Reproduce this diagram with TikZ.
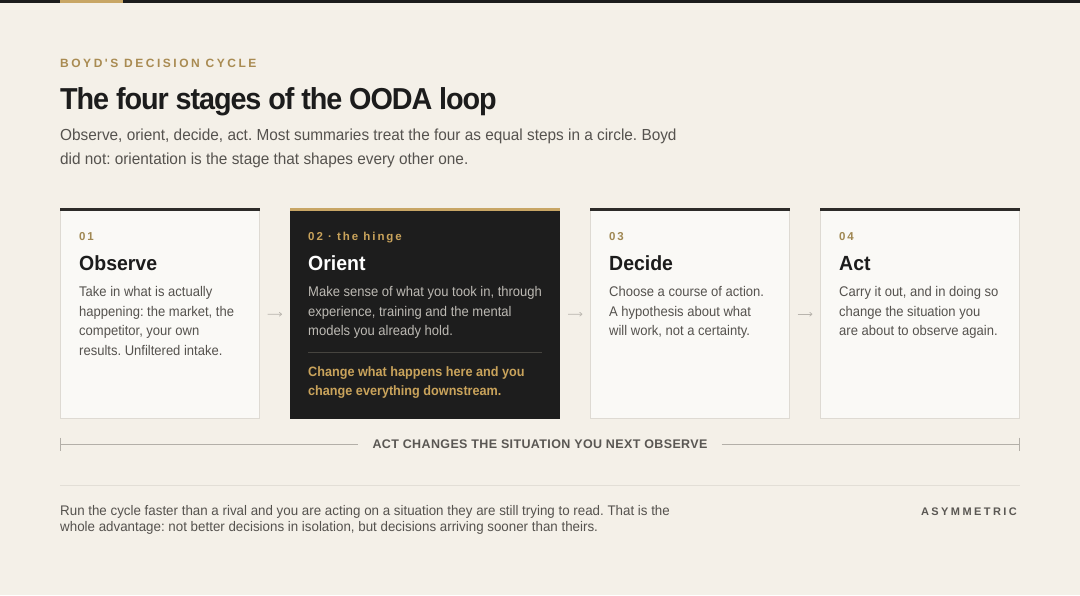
\documentclass[tikz,border=0pt]{standalone}
\usepackage{fontspec}
\setmainfont{Liberation Sans}
\newfontfamily\fE{Liberation Sans}
\newfontfamily\fN{Liberation Sans}[FakeStretch=0.93]
\newfontfamily\fM{Liberation Sans}[FakeStretch=0.96]
\newfontfamily\fT{Liberation Sans}[FakeStretch=0.95]
\newfontfamily\fH{Liberation Sans}[FakeStretch=0.95]
\usetikzlibrary{arrows.meta}
\frenchspacing
\definecolor{bg}{HTML}{F4F0E8}
\definecolor{cardfill}{HTML}{FAF9F6}
\definecolor{cardline}{HTML}{DEDAD3}
\definecolor{darkcard}{HTML}{1D1D1D}
\definecolor{topdark}{HTML}{2D2B29}
\definecolor{gold}{HTML}{A98B52}
\definecolor{goldnum}{HTML}{A08853}
\definecolor{goldbright}{HTML}{C9A35B}
\definecolor{goldbar}{HTML}{C8A665}
\definecolor{ink}{HTML}{1C1C1C}
\definecolor{body}{HTML}{55524E}
\definecolor{orientbody}{HTML}{BDBAB4}
\definecolor{orientrule}{HTML}{46443F}
\definecolor{loopline}{HTML}{B3AFA8}
\definecolor{looptext}{HTML}{5A5753}
\definecolor{sepline}{HTML}{E2DED6}
\definecolor{arrowgray}{HTML}{B8B4AD}
\newcommand\mylines[6]{%
  \foreach \ln [count=\k from 0] in {#6} {%
    \node[#5] (#1\k) at (#2, {#3+\k*#4}) {\ln};}}
\tikzset{
  lbl/.style={inner sep=0pt, anchor=base west},
  eyebrow/.style={lbl, text=gold, font=\fE\bfseries\fontsize{12}{14}\selectfont\addfontfeatures{LetterSpace=21}},
  titletext/.style={lbl, text=ink, font=\fT\bfseries\fontsize{30.3}{36}\selectfont\addfontfeatures{LetterSpace=-3.6}},
  subtext/.style={lbl, text=body, font=\fM\fontsize{16}{18}\selectfont},
  numtext/.style={lbl, text=goldnum, font=\bfseries\fontsize{11.5}{13}\selectfont\addfontfeatures{LetterSpace=15}},
  headtext/.style={lbl, text=ink, font=\fH\bfseries\fontsize{20.5}{24}\selectfont},
  bodytext/.style={lbl, text=body, font=\fN\fontsize{14}{16}\selectfont},
  orienttext/.style={lbl, text=orientbody, font=\fN\fontsize{14}{16}\selectfont},
  hingetext/.style={lbl, text=goldbright, font=\fN\bfseries\fontsize{13.6}{15}\selectfont},
  cardbox/.style={draw=cardline, line width=0.8pt, fill=cardfill, anchor=north west, minimum width=199.2pt, minimum height=209.6pt, inner sep=0pt, outer sep=0pt},
  darkbox/.style={fill=darkcard, anchor=north west, minimum width=270pt, minimum height=210.5pt, inner sep=0pt, outer sep=0pt},
  flowarrow/.style={draw=arrowgray, line width=0.7pt, -{To[length=3pt,width=4.5pt]}},
  loopstyle/.style={draw=loopline, line width=0.8pt},
  looplabel/.style={text=looptext, font=\bfseries\fontsize{12.5}{14}\selectfont\addfontfeatures{LetterSpace=3}, inner xsep=14pt, inner ysep=2pt},
  foottext/.style={lbl, text=body, font=\fM\fontsize{13.9}{16}\selectfont},
  tagtext/.style={inner sep=0pt, anchor=base east, text=looptext, font=\bfseries\fontsize{11}{13}\selectfont\addfontfeatures{LetterSpace=22}},
}
\begin{document}
\begin{tikzpicture}[x=1pt,y=-1pt]
\useasboundingbox (0,0) rectangle (1080,595);
\fill[bg] (0,0) rectangle (1080,595);
% top bar
\fill[ink] (0,0) rectangle (1080,3);
\fill[goldbar] (60,0) rectangle (123,3);
% header
\node[eyebrow] (eyebrow) at (60,67.5) {BOYD'S DECISION CYCLE};
\node[titletext] (title) at (60,109) {The four stages of the OODA loop};
\node[subtext] (sub1) at (60,140) {Observe, orient, decide, act. Most summaries treat the four as equal steps in a circle. Boyd};
\node[subtext] (sub2) at (60,164.5) {did not: orientation is the stage that shapes every other one.};
% cards
\node[cardbox] (c1) at (60.4,208.4) {};
\node[darkbox] (c2) at (290,208) {};
\node[cardbox] (c3) at (590.4,208.4) {};
\node[cardbox] (c4) at (820.4,208.4) {};
\fill[topdark] ([xshift=-0.4pt]c1.north west) rectangle ([xshift=0.4pt,yshift=-3pt]c1.north east);
\fill[goldbar] (c2.north west) rectangle ([yshift=-3pt]c2.north east);
\fill[topdark] ([xshift=-0.4pt]c3.north west) rectangle ([xshift=0.4pt,yshift=-3pt]c3.north east);
\fill[topdark] ([xshift=-0.4pt]c4.north west) rectangle ([xshift=0.4pt,yshift=-3pt]c4.north east);
% card 1
\node[numtext] (n1) at (79,240) {01};
\node[headtext] (h1) at (79,270) {Observe};
\mylines{ba}{79}{296.5}{19.6}{bodytext}{Take in what is actually,{happening: the market, the},{competitor, your own},results. Unfiltered intake.}
% card 2
\node[numtext, text=goldbright, font=\bfseries\fontsize{11.5}{13}\selectfont\addfontfeatures{LetterSpace=17}] (n2) at (308,240) {02 · the hinge};
\node[headtext, text=white] (h2) at (308,270) {Orient};
\mylines{bb}{308}{296.5}{19.6}{orienttext}{{Make sense of what you took in, through},{experience, training and the mental},models you already hold.}
\coordinate (dl) at (308,352.5);
\coordinate (dr) at (542,352.5);
\draw[orientrule, line width=0.8pt] (dl) -- (dr);
\mylines{bg}{308}{376.5}{18.5}{hingetext}{Change what happens here and you,change everything downstream.}
% card 3
\node[numtext] (n3) at (609,240) {03};
\node[headtext] (h3) at (609,270) {Decide};
\mylines{bc}{609}{296.5}{19.6}{bodytext}{Choose a course of action.,A hypothesis about what,{will work, not a certainty.}}
% card 4
\node[numtext] (n4) at (839,240) {04};
\node[headtext] (h4) at (839,270) {Act};
\mylines{bd}{839}{296.5}{19.6}{bodytext}{{Carry it out, and in doing so},change the situation you,are about to observe again.}
% arrows
\draw[flowarrow] ([xshift=8pt,yshift=-1pt]c1.east) -- ([xshift=-8pt,yshift=-1pt]c2.west);
\draw[flowarrow] ([xshift=8pt,yshift=-1pt]c2.east) -- ([xshift=-8pt,yshift=-1pt]c3.west);
\draw[flowarrow] ([xshift=8pt,yshift=-1pt]c3.east) -- ([xshift=-8pt,yshift=-1pt]c4.west);
% loop-back line
\node[looplabel] (loop) at (540,444) {ACT CHANGES THE SITUATION YOU NEXT OBSERVE};
\coordinate (la) at (60.5,444);
\coordinate (lb) at (1019.5,444);
\draw[loopstyle] (la) -- (la -| loop.west);
\draw[loopstyle] (loop.east |- lb) -- (lb);
\draw[loopstyle] ([yshift=6.5pt]la) -- ([yshift=-6.5pt]la);
\draw[loopstyle] ([yshift=6.5pt]lb) -- ([yshift=-6.5pt]lb);
% separator
\coordinate (sa) at (60,485);
\coordinate (sb) at (1020,485);
\draw[sepline, line width=1pt] (sa) -- (sb);
% footer
\node[foottext] (f1) at (60,515.5) {Run the cycle faster than a rival and you are acting on a situation they are still trying to read. That is the};
\node[foottext] (f2) at (60,531.5) {whole advantage: not better decisions in isolation, but decisions arriving sooner than theirs.};
\node[tagtext] (tag) at (1017,515) {ASYMMETRIC};
\end{tikzpicture}
\end{document}
